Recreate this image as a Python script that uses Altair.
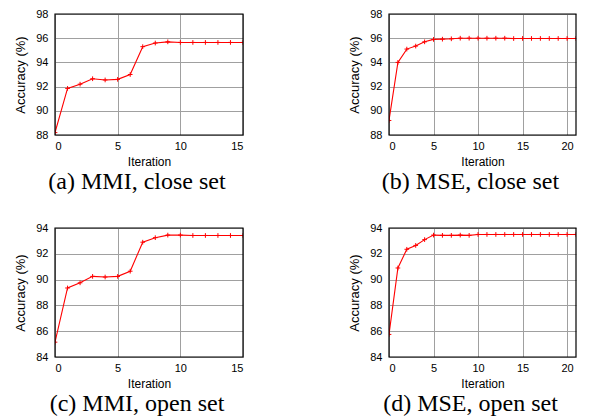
import altair as alt
import pandas as pd

# Data
iter_a = list(range(16))
acc_a = [88.2, 91.85, 92.2, 92.65, 92.55, 92.6, 93.0, 95.3, 95.6, 95.7, 95.65, 95.65, 95.65, 95.65, 95.65, 95.65]

iter_b = list(range(22))
acc_b = [89.2, 94.0, 95.1, 95.35, 95.7, 95.9, 95.92, 95.95, 96.0, 96.0, 96.0, 96.0, 96.0, 96.0, 95.97,
         95.98, 95.98, 95.98, 95.98, 95.98, 95.98, 95.98]

iter_c = list(range(16))
acc_c = [85.15, 89.35, 89.75, 90.25, 90.2, 90.25, 90.65, 92.9, 93.25, 93.45, 93.45, 93.42, 93.42, 93.42, 93.42, 93.42]

iter_d = list(range(22))
acc_d = [85.75, 90.9, 92.35, 92.65, 93.1, 93.45, 93.43, 93.43, 93.45, 93.43, 93.5, 93.5, 93.5, 93.5, 93.5,
         93.5, 93.5, 93.5, 93.5, 93.5, 93.5, 93.5]

captions = ["(a) MMI, close set", "(b) MSE, close set", "(c) MMI, open set", "(d) MSE, open set"]

PLUS = "M-1,0L1,0M0,-1L0,1"


def panel(xs, ys, xmax, xticks, ymin, ymax, caption, w, h):
    df = pd.DataFrame({"it": xs, "acc": ys})
    x = alt.X("it:Q", scale=alt.Scale(domain=[0, xmax], nice=False, zero=False),
              axis=alt.Axis(values=xticks, title="Iteration"))
    y = alt.Y("acc:Q", scale=alt.Scale(domain=[ymin, ymax], nice=False, zero=False),
              axis=alt.Axis(values=list(range(ymin, ymax + 1, 2)), title="Accuracy (%)"))
    line = alt.Chart(df).mark_line(color="#ff0000", strokeWidth=1.1, clip=True).encode(x=x, y=y)
    pts = alt.Chart(df).mark_point(shape=PLUS, size=22, color="#ff0000", filled=False,
                                   strokeWidth=1, opacity=1, clip=True).encode(x=x, y=y)
    frame = alt.Chart(pd.DataFrame({"f": [0]})).mark_rect(
        fillOpacity=0, stroke="black", strokeWidth=1.2).encode(
        x=alt.value(0), x2=alt.value(w), y=alt.value(0), y2=alt.value(h))
    return alt.layer(line, pts, frame).properties(
        width=w, height=h,
        title=alt.TitleParams(caption, orient="bottom", font="Liberation Serif", fontSize=24,
                              fontWeight="normal", color="black", offset=3, anchor="middle", dx=-12))


a = panel(iter_a, acc_a, 15, [0, 5, 10, 15], 88, 98, captions[0], 188, 121)
b = panel(iter_b, acc_b, 21, [0, 5, 10, 15, 20], 88, 98, captions[1], 187, 121)
c = panel(iter_c, acc_c, 15, [0, 5, 10, 15], 84, 94, captions[2], 188, 129)
d = panel(iter_d, acc_d, 21, [0, 5, 10, 15, 20], 84, 94, captions[3], 187, 129)

chart = alt.vconcat(
    alt.hconcat(a, b, spacing=104),
    alt.hconcat(c, d, spacing=104),
    spacing=28,
).properties(
    padding={"left": 6, "top": 0, "right": 0, "bottom": 0}
).configure_view(stroke=None).configure_axis(
    labelFont="Liberation Sans", labelFontSize=11, labelColor="black",
    titleFont="Liberation Sans", titleFontWeight="normal", titleColor="black",
    gridColor="#a0a0a0", gridWidth=1, gridOpacity=1,
    domain=False, ticks=False,
).configure_axisY(
    titleFontSize=13, labelPadding=7, titlePadding=8,
).configure_axisX(
    titleFontSize=12, labelPadding=5, titlePadding=5,
)

chart.save("out.html", embed_options={"renderer": "svg", "actions": False})
